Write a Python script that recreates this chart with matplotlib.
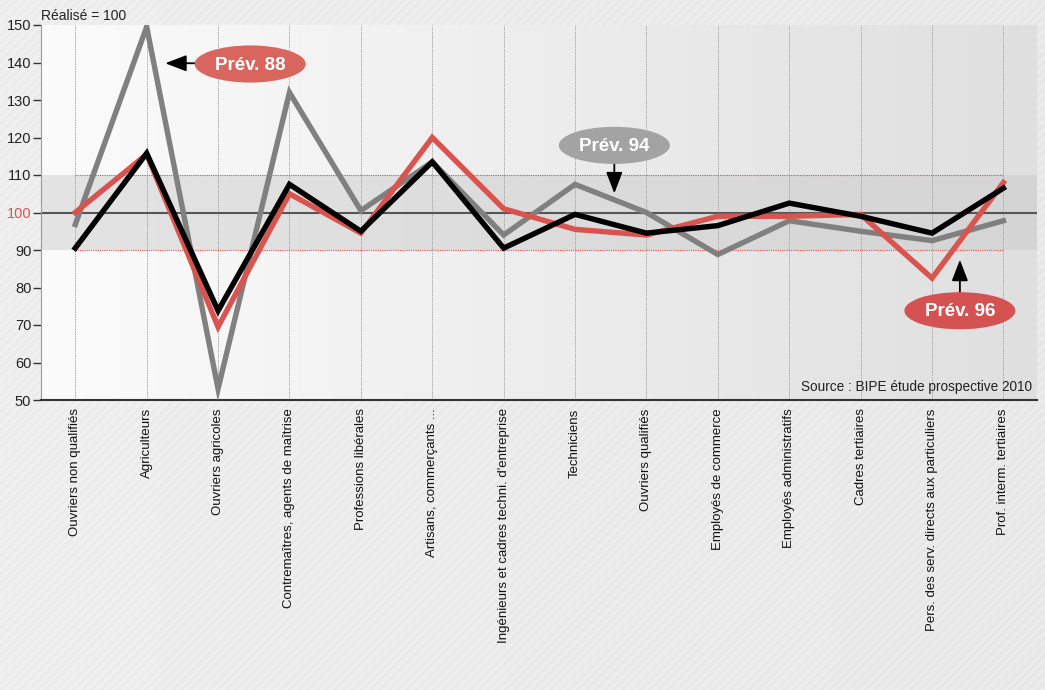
import numpy as np
import matplotlib
matplotlib.use("Agg")
import matplotlib.pyplot as plt
from matplotlib.patches import Ellipse

plt.rcParams['font.family'] = ['Liberation Sans', 'DejaVu Sans']

categories = [
    "Ouvriers non qualifiés", "Agriculteurs", "Ouvriers agricoles",
    "Contremaîtres, agents de maîtrise", "Professions libérales",
    "Artisans, commerçants ...", "Ingénieurs et cadres techni. d'entreprise",
    "Techniciens", "Ouvriers qualifiés", "Employés de commerce",
    "Employés administratifs", "Cadres tertiaires",
    "Pers. des serv. directs aux particuliers", "Prof. interm. tertiaires",
]
prev_red = [100, 115.5, 69.5, 105, 94.5, 120, 101, 95.5, 94, 99, 99, 99.5, 82.5, 108]
prev_black = [90.5, 115.8, 73.8, 107.5, 95, 113.5, 90.5, 99.5, 94.5, 96.5, 102.5, 99, 94.5, 106.5]
prev_gray = [96.8, 149.5, 53, 132, 100.5, 113.5, 94, 107.5, 100, 88.8, 97.8, 95, 92.5, 97.8]
y_ticks = [50, 60, 70, 80, 90, 100, 110, 120, 130, 140, 150]

W, H = 1045, 690
fig = plt.figure(figsize=(W / 100, H / 100), dpi=100)

# figure background with subtle diagonal stripes
bg = fig.add_axes([0, 0, 1, 1], zorder=-10)
yy, xx = np.mgrid[0:H, 0:W]
stripes = 0.915 + 0.012 * np.sin((xx + yy) * 2 * np.pi / 9.0)
grad = stripes + 0.02 * (1 - xx / W)
bg.imshow(np.dstack([grad, grad, grad]).clip(0, 1), aspect='auto', extent=[0, 1, 0, 1])
bg.set_axis_off()

ax = fig.add_axes([41 / W, 1 - 400 / H, (1037 - 41) / W, (400 - 25) / H])
n = len(categories)
x = np.arange(n)
ax.set_xlim(-0.48, n - 0.53)
ax.set_ylim(50, 150)

# plot area gradient (white -> light grey)
g = np.linspace(0.985, 0.875, 256)
ax.imshow(np.dstack([g, g, g]), aspect='auto',
          extent=[-0.48, n - 0.53, 50, 150], zorder=0)

# band 90-110
ax.axhspan(90, 110, color='#c8c8c8', alpha=0.45, lw=0, zorder=1)
ax.hlines([90, 110], 0, n - 1, colors='#d9534f', linestyles=(0, (1, 1)), lw=0.8, zorder=2)

# vertical dotted grid
for xi in x:
    ax.axvline(xi, color='#a8a8a8', lw=0.7, ls=(0, (1.5, 1)), zorder=1.5)
ax.axhline(100, color='#555555', lw=1.5, zorder=2.5)

ax.plot(x, prev_gray, color='#808080', lw=3.9, zorder=3, solid_joinstyle='miter')
ax.plot(x, prev_red, color='#d9534f', lw=3.9, zorder=4, solid_joinstyle='miter')
ax.plot(x, prev_black, color='#000000', lw=3.9, zorder=5, solid_joinstyle='miter')

for s in ['top', 'right']:
    ax.spines[s].set_visible(False)
ax.spines['left'].set_color('#9a9a9a')
ax.spines['left'].set_linewidth(0.8)
ax.spines['bottom'].set_color('#333333')
ax.spines['bottom'].set_linewidth(1.5)

ax.set_yticks(y_ticks)
ax.set_yticklabels([str(v) for v in y_ticks], fontsize=10.5, color='#222222')
ax.get_yticklabels()[5].set_color('#d9534f')
ax.tick_params(axis='y', direction='out', length=6, width=1, color='#333333', pad=1)
ax.set_xticks(x)
ax.set_xticklabels(categories, rotation=90, fontsize=9.5, color='#111111', va='top', ha='center')
ax.tick_params(axis='x', length=0, pad=6)

ax.text(0, 1.005, "Réalisé = 100", transform=ax.transAxes, fontsize=10,
        color='#222222', ha='left', va='bottom')
ax.text(0.995, 0.015, "Source : BIPE étude prospective 2010", transform=ax.transAxes,
        fontsize=9.8, color='#222222', ha='right', va='bottom', zorder=6)

def bubble(cx, cy, text, fc, tail, tip):
    ax.annotate("", xy=tip, xytext=tail,
                arrowprops=dict(arrowstyle='-|>,head_length=1.3,head_width=0.5',
                                color='black', lw=1.3, shrinkA=0, shrinkB=0), zorder=7)
    e = Ellipse((cx, cy), 1.555, 9.9, facecolor=fc, edgecolor='none', zorder=8)
    ax.add_patch(e)
    ax.text(cx, cy - 0.3, text, ha='center', va='center', fontsize=13.5,
            fontweight='bold', color='white', zorder=9)

bubble(2.45, 139.6, "Prév. 88", '#d9665e', (1.68, 139.8), (1.26, 139.8))
bubble(7.55, 117.9, "Prév. 94", '#a3a3a3', (7.55, 113.1), (7.55, 105.1))
bubble(12.39, 73.8, "Prév. 96", '#d45252', (12.39, 78.6), (12.39, 87.4))

fig.savefig("out.png", dpi=100)
